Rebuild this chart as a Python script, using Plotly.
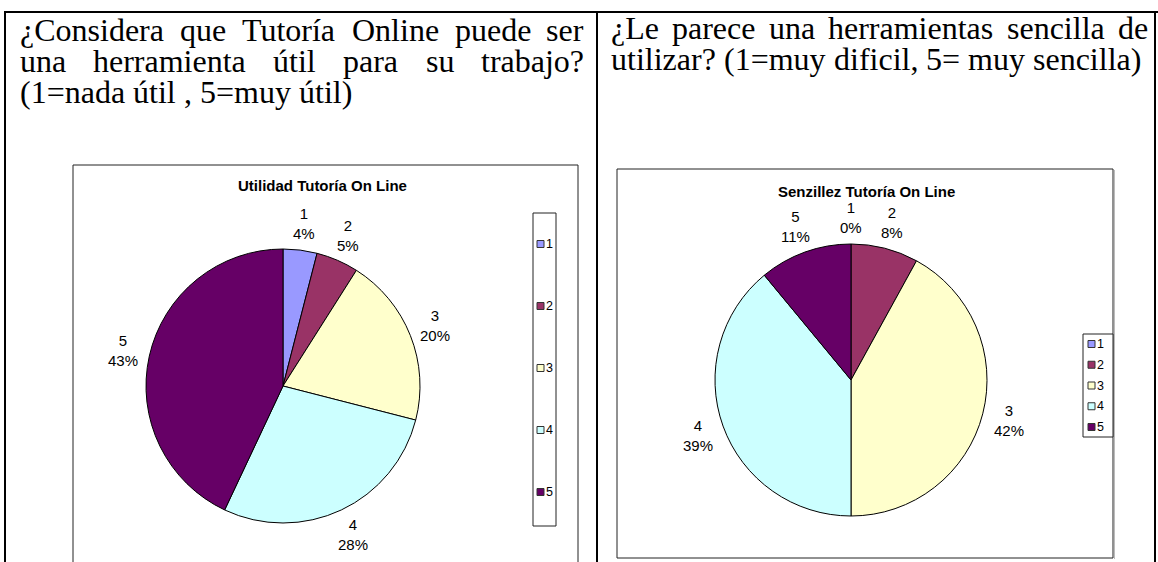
import math
import plotly.graph_objects as go

# ---------------- data ----------------
ratings = ["1", "2", "3", "4", "5"]
utilidad_pct = [4, 5, 20, 28, 43]
senzillez_pct = [0, 8, 42, 39, 11]
slice_colors = ["#9999FF", "#993366", "#FFFFCC", "#CCFFFF", "#660066"]
title_utilidad = "Utilidad Tutoría On Line"
title_senzillez = "Senzillez Tutoría On Line"
question_left = ["¿Considera que Tutoría Online puede ser",
                 "una herramienta útil para su trabajo?",
                 "(1=nada útil , 5=muy útil)"]
question_right = ["¿Le parece una herramientas sencilla de",
                  "utilizar? (1=muy dificil, 5= muy sencilla)"]

# ---------------- layout constants ----------------
W, H = 1158, 562
SERIF = "Liberation Serif"
SANS = "Liberation Sans"
FS = 32          # body text size
LABEL_FS = 15    # pie label size
PIE1 = dict(cx=283, cy=386, r=137)
PIE2 = dict(cx=851, cy=380, r=136)
LABEL_GAP = 27

# Times advance widths (1/1000 em) used to justify lines like the document does
TW = {' ': 250, '¿': 444, '?': 444, 'C': 667, 'L': 611, 'O': 722, 'T': 611,
      'a': 444, 'b': 500, 'c': 444, 'd': 500, 'e': 444, 'f': 333, 'h': 500,
      'i': 278, 'í': 278, 'j': 278, 'l': 278, 'm': 778, 'n': 500, 'o': 500,
      'p': 500, 'q': 500, 'r': 333, 's': 389, 't': 278, 'u': 500, 'ú': 500,
      'y': 500, 'z': 444, '(': 333, ')': 333, '=': 564, ',': 250, '1': 500,
      '5': 500}


def word_w(w, fs):
    return sum(TW.get(c, 500) for c in w) / 1000.0 * fs


def layout_line(line, x0, x1, fs, justify):
    words = line.split(" ")
    widths = [word_w(w, fs) for w in words]
    if justify and len(words) > 1:
        gap = (x1 - x0 - sum(widths)) / (len(words) - 1)
    else:
        gap = TW[' '] / 1000.0 * fs
    out, x = [], x0
    for w, wd in zip(words, widths):
        out.append((w, x, wd))
        x += wd + gap
    return out


def fx(x):
    return x / W


def fy(y):
    return 1 - y / H


fig = go.Figure()

shapes = []
ann = []


def add_pie(values, geo, name):
    cx, cy, r = geo["cx"], geo["cy"], geo["r"]
    fig.add_trace(go.Pie(
        labels=ratings, values=values, name=name, sort=False,
        direction="clockwise", rotation=0,
        marker=dict(colors=slice_colors, line=dict(color="black", width=1)),
        textinfo="none", showlegend=False, automargin=False,
        hoverinfo="label+percent",
        domain=dict(x=[fx(cx - r), fx(cx + r)], y=[fy(cy + r), fy(cy - r)]),
    ))
    # spreadsheet-style labels: category + percentage just outside each slice
    total = float(sum(values))
    cum = 0.0
    for lab, v in zip(ratings, values):
        mid = (cum + v / 2.0) / total * 2 * math.pi
        cum += v
        d = r + LABEL_GAP
        ann.append(dict(x=cx + d * math.sin(mid), y=cy - d * math.cos(mid),
                        xref="x", yref="y", showarrow=False,
                        text="%s<br>%d%%" % (lab, round(100 * v / total)),
                        xanchor="center", yanchor="middle", align="center",
                        borderpad=0, borderwidth=0,
                        font=dict(family=SANS, size=LABEL_FS, color="black")))


add_pie(utilidad_pct, PIE1, title_utilidad)
add_pie(senzillez_pct, PIE2, title_senzillez)

# table borders
blk = dict(color="black", width=2)
shapes += [
    dict(type="line", x0=4, x1=1158, y0=12, y1=12, line=blk),
    dict(type="line", x0=5, x1=5, y0=12, y1=570, line=blk),
    dict(type="line", x0=597, x1=597, y0=12, y1=570, line=blk),
    dict(type="line", x0=1155, x1=1155, y0=12, y1=570, line=blk),
]

# chart frames
frame = dict(color="#222222", width=1)
shapes += [
    dict(type="rect", x0=73, x1=578, y0=165, y1=575, line=frame),
    dict(type="line", x0=1114.5, x1=1114.5, y0=170, y1=559,
         line=dict(color="#BBBBBB", width=1)),
    dict(type="rect", x0=617, x1=1113, y0=169, y1=558, line=frame),
]


# question text (justified like the document)
def add_text(lines, x0, x1, baselines):
    for li, (line, base) in enumerate(zip(lines, baselines)):
        justify = li < len(lines) - 1
        for w, x, wd in layout_line(line, x0, x1, FS, justify):
            ann.append(dict(x=x + wd / 2, y=base - 0.3375 * FS, xref="x", yref="y",
                            text=w, showarrow=False, xanchor="center", yanchor="middle",
                            borderpad=0, borderwidth=0,
                            font=dict(family=SERIF, size=FS, color="black")))


add_text(question_left, 20, 584, [41, 72, 103])
add_text(question_right, 611, 1148, [39, 70])

# chart titles
ann.append(dict(x=322, y=185, xref="x", yref="y", text="<b>%s</b>" % title_utilidad,
                showarrow=False, font=dict(family=SANS, size=15, color="black")))
ann.append(dict(x=866, y=191, xref="x", yref="y", text="<b>%s</b>" % title_senzillez,
                showarrow=False, font=dict(family=SANS, size=15, color="black")))


# legends (drawn by hand to mimic the spreadsheet legend boxes)
def add_legend(x0, x1, y0, y1, first, step, sq_x):
    shapes.append(dict(type="rect", x0=x0, x1=x1, y0=y0, y1=y1, line=frame,
                       fillcolor="white"))
    for i, (lab, col) in enumerate(zip(ratings, slice_colors)):
        cy = first + i * step
        shapes.append(dict(type="rect", x0=sq_x, x1=sq_x + 7, y0=cy - 3.5, y1=cy + 3.5,
                           fillcolor=col, line=dict(color="#333333", width=1)))
        ann.append(dict(x=sq_x + 9, y=cy, xref="x", yref="y", text=lab, showarrow=False,
                        xanchor="left", yanchor="middle", borderpad=0, borderwidth=0,
                        font=dict(family=SANS, size=12.5, color="black")))


add_legend(533, 556, 213, 526, 244, 62, 537)
add_legend(1083, 1113, 334, 437, 344, 20.75, 1088)

fig.update_layout(
    width=W, height=H, margin=dict(l=0, r=0, t=0, b=0),
    paper_bgcolor="white", plot_bgcolor="white",
    xaxis=dict(range=[0, W], visible=False, fixedrange=True),
    yaxis=dict(range=[H, 0], visible=False, fixedrange=True),
    shapes=shapes, annotations=ann, showlegend=False,
)
fig.write_html("out.html",
               config={"displayModeBar": False},
               post_script="document.body.style.margin='0';"
                           "document.body.style.overflow='hidden';")
